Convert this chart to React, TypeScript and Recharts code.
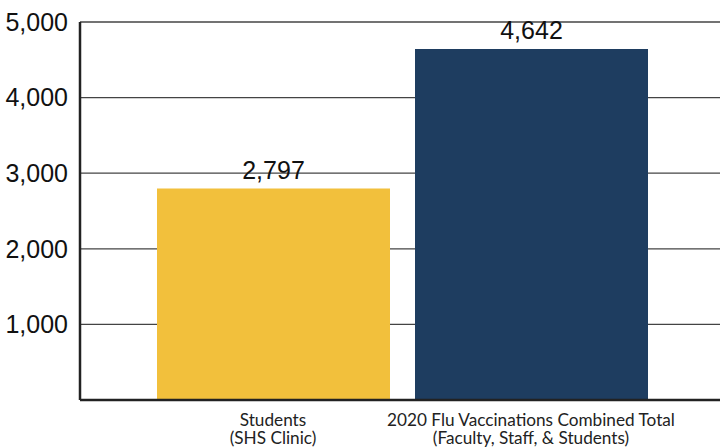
import { BarChart, Bar, CartesianGrid, XAxis, YAxis, Cell, LabelList } from 'recharts';

const categories = ["Students\n(SHS Clinic)", "2020 Flu Vaccinations Combined Total\n(Faculty, Staff, & Students)"];
const vaccinations = [2797, 4642];
const barColors = ["#F2C03C", "#1E3D60"];
const yTicks = [1000, 2000, 3000, 4000, 5000];

const data = categories.map((name, i) => ({ name, value: vaccinations[i] }));

const CategoryTick = (props: any) => {
    const { x, y, payload } = props;
    const lines = String(payload.value).split("\n");
    return (
        <g transform={`translate(${x},${y})`}>
            {lines.map((line, i) => (
                <text key={i} x={0} y={18 + i * 18} textAnchor="middle" fill="#222"
                    style={{ fontFamily: 'Lato, "Open Sans", sans-serif', fontSize: 17.2 }}>
                    {line}
                </text>
            ))}
        </g>
    );
};

const ValueLabel = (props: any) => {
    const { x, y, width, value } = props;
    return (
        <text x={x + width / 2} y={y - 10} textAnchor="middle" fill="#111"
            style={{ fontFamily: '"Liberation Sans", Arial, sans-serif', fontSize: 25 }}>
            {Number(value).toLocaleString('en-US')}
        </text>
    );
};

export default function App() {
    return (
        <div style={{ width: 720, height: 448, background: '#fff' }}>
            <style>{`body{margin:0}`}</style>
            <BarChart
                width={720}
                height={448}
                data={data}
                margin={{ top: 22, right: 0, left: 0, bottom: 0 }}
            >
                <CartesianGrid vertical={false} stroke="#444" strokeWidth={1.3} />
                <XAxis
                    dataKey="name"
                    padding={{ left: 64, right: 60 }}
                    tickLine={false}
                    axisLine={{ stroke: '#222', strokeWidth: 2.5 }}
                    tick={<CategoryTick />}
                    interval={0}
                    height={48}
                />
                <YAxis
                    width={80}
                    domain={[0, 5000]}
                    ticks={yTicks}
                    tickLine={false}
                    tickSize={0}
                    tickMargin={12}
                    axisLine={{ stroke: '#222', strokeWidth: 2.5 }}
                    tickFormatter={(v: number) => v.toLocaleString('en-US')}
                    tick={{ fill: '#111', fontSize: 25, fontFamily: '"Liberation Sans", Arial, sans-serif' }}
                />
                <Bar dataKey="value" barSize={233} isAnimationActive={false}>
                    {data.map((_, i) => (
                        <Cell key={i} fill={barColors[i]} />
                    ))}
                    <LabelList dataKey="value" content={<ValueLabel />} />
                </Bar>
            </BarChart>
        </div>
    );
}
